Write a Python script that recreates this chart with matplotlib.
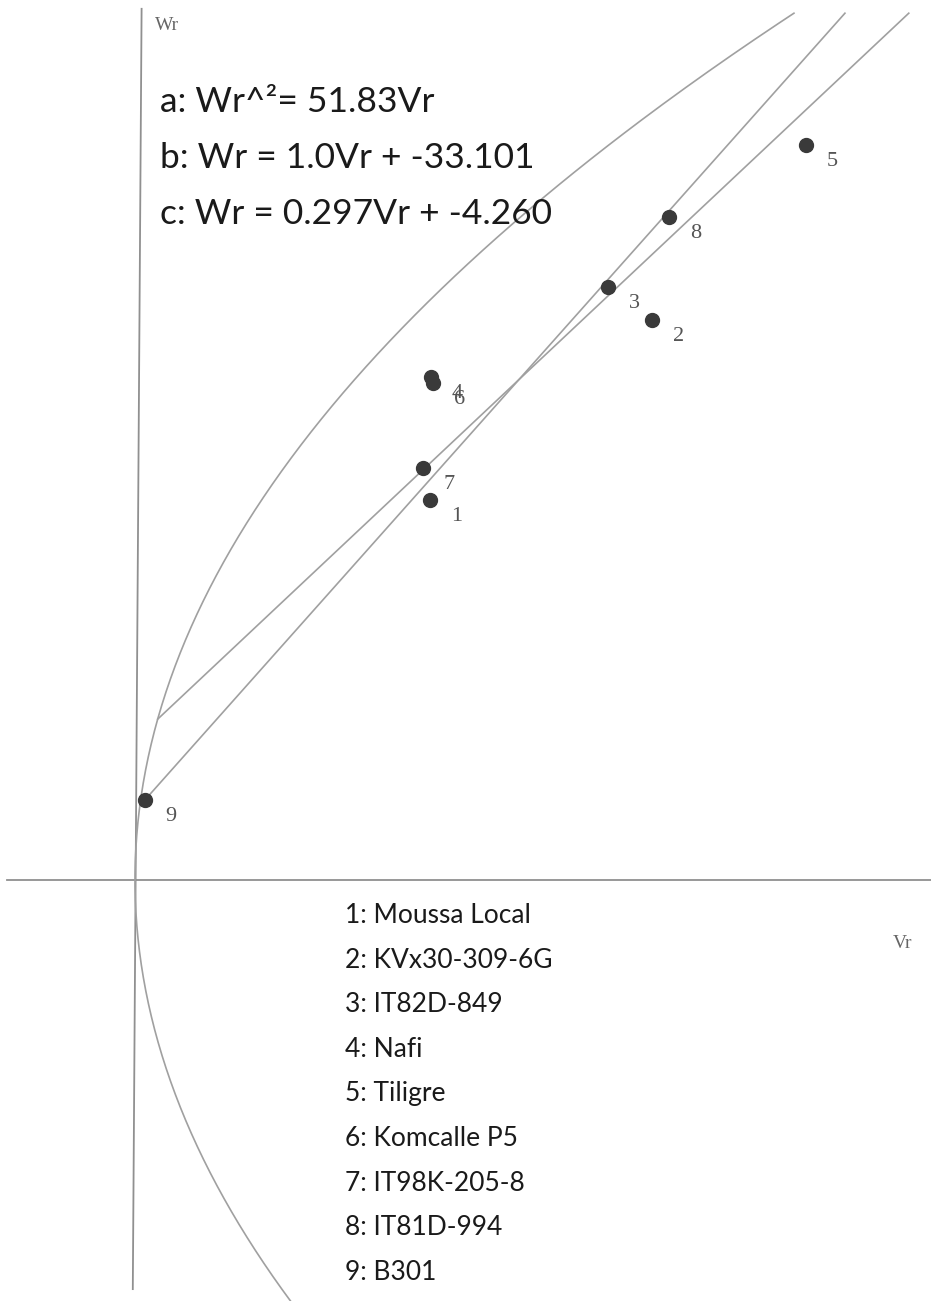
import numpy as np
import matplotlib
matplotlib.use("Agg")
import matplotlib.pyplot as plt

# ---------------- data ----------------
genotype_ids = ["1", "2", "3", "4", "5", "6", "7", "8", "9"]
genotype_names = ["Moussa Local", "KVx30-309-6G", "IT82D-849", "Nafi", "Tiligre",
                  "Komcalle P5", "IT98K-205-8", "IT81D-994", "B301"]
vr = [13.41, 23.50, 21.50, 13.45, 30.50, 13.55, 13.09, 24.27, 0.45]
wr = [17.27, 25.45, 26.95, 22.85, 33.40, 22.60, 18.73, 30.14, 3.64]

parabola_coef = 51.83          # Wr^2 = 51.83 Vr
line_b = (3.13, 1.124)         # intercept, slope of drawn line through 9, 3, 8
line_c = (6.34, 0.94)          # intercept, slope of drawn line through 7
wr_top = 39.4

equations = ["a: Wr^\u00b2= 51.83Vr",
             "b: Wr = 1.0Vr + -33.101",
             "c: Wr = 0.297Vr + -4.260"]

line_col = "#a0a0a0"
dot_col = "#3a3a3a"
lab_col = "#555555"

fig = plt.figure(figsize=(9.31, 13.01), dpi=100)
ax = fig.add_axes([0, 0, 1, 1])
ax.set_xlim(-6.136, 36.18)
ax.set_ylim(-19.14, 40.0)
ax.axis("off")

# axes of the graph
ax.plot([-5.8, 36.18], [0, 0], color="#909090", lw=1.3)
ax.plot([0.3, -0.1], [39.6, -18.6], color="#909090", lw=1.3)

# parabola a
w = np.linspace(-19.5, wr_top, 400)
ax.plot(w ** 2 / parabola_coef, w, color=line_col, lw=1.2)

# the two straight lines, from where they meet the parabola up to the top
for a0, b0 in (line_b, line_c):
    qa = b0 ** 2
    qb = 2 * a0 * b0 - parabola_coef
    qc = a0 ** 2
    v0 = (-qb - np.sqrt(qb ** 2 - 4 * qa * qc)) / (2 * qa)
    v1 = (wr_top - a0) / b0
    ax.plot([v0, v1], [a0 + b0 * v0, wr_top], color=line_col, lw=1.2)

# genotype points
ax.plot(vr, wr, "o", color=dot_col, ms=10, mec=dot_col, zorder=5)
for gid, x, y in zip(genotype_ids, vr, wr):
    ax.annotate(gid, (x, y), xytext=(15, -15), textcoords="offset points",
                family="Liberation Serif", fontsize=16, color=lab_col)

# axis names
fig.text(155 / 931, 1 - 30 / 1301, "Wr", family="Liberation Serif",
         fontsize=14, color="#666666")
fig.text(893 / 931, 1 - 948 / 1301, "Vr", family="Liberation Serif",
         fontsize=14, color="#666666")

# equations
for i, eq in enumerate(equations):
    fig.text(160 / 931, 1 - (112 + 56 * i) / 1301, eq, family="Lato",
             fontsize=25.5, color="#1a1a1a", va="baseline")

# genotype key
for i, (gid, name) in enumerate(zip(genotype_ids, genotype_names)):
    fig.text(345 / 931, 1 - (923 + 44.6 * i) / 1301, gid + ": " + name,
             family="Lato", fontsize=19, color="#1a1a1a", va="baseline")

fig.savefig("out.png", dpi=100, facecolor="white")
